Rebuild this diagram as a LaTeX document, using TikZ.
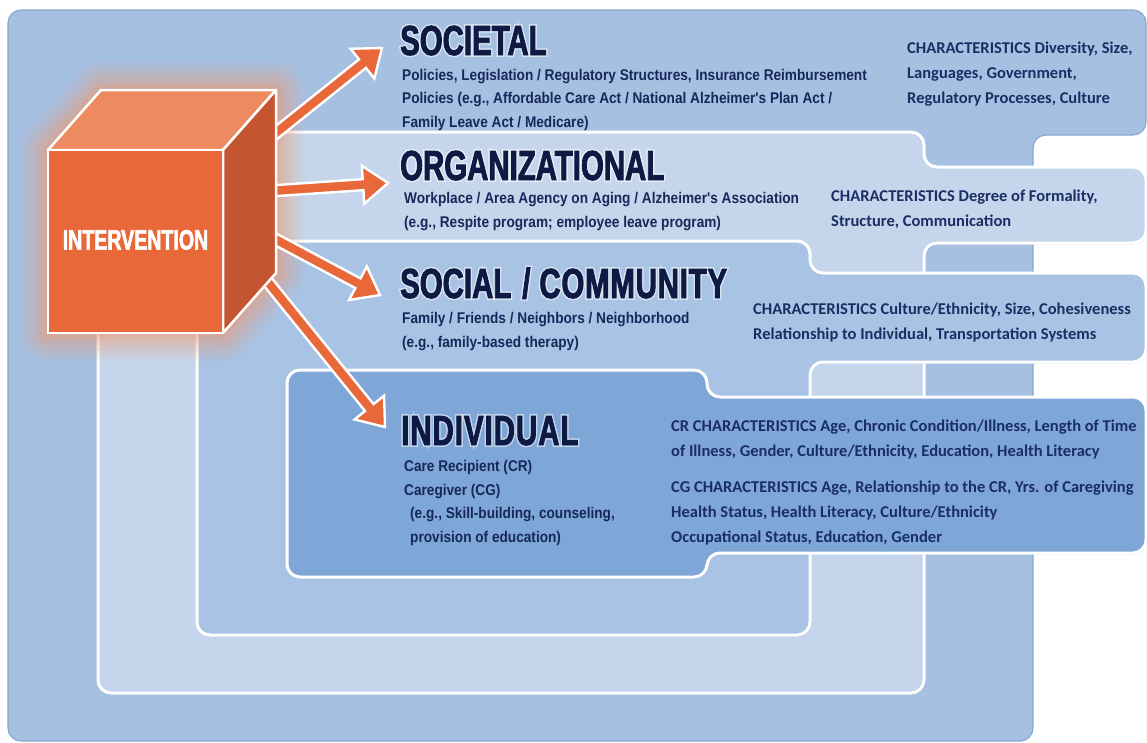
\documentclass[tikz,border=0pt]{standalone}
\usepackage{fontspec}
\usetikzlibrary{calc,shadows}

\newfontfamily\headfont{Liberation Sans Bold}[FakeStretch=0.70,FakeBold=2]
\newfontfamily\halofont{Liberation Sans Bold}[FakeStretch=0.70,FakeBold=9]
\newfontfamily\bodyfont{Liberation Sans Bold}[FakeStretch=0.88]
\newfontfamily\charfont{Carlito Bold}

\definecolor{outerblue}{HTML}{A6C0E2}
\definecolor{orgblue}{HTML}{C5D6EC}
\definecolor{socblue}{HTML}{A9C3E4}
\definecolor{indblue}{HTML}{7EA6D6}
\definecolor{outeredge}{HTML}{8BA7CE}
\definecolor{cubefront}{HTML}{E8683A}
\definecolor{cubetop}{HTML}{EE8A5F}
\definecolor{cuberight}{HTML}{C55530}
\definecolor{glowc}{HTML}{F29A70}
\definecolor{headtext}{HTML}{0E1A44}
\definecolor{bodytext}{HTML}{16285A}
\definecolor{chartext}{HTML}{1B2E64}

% fat outlined arrow from #1 to #2
\newcommand\fatarrow[2]{%
  \coordinate (fa-n) at ($(#2)!25pt!(#1)$);
  \filldraw[arrowbody]
    ($(#1)!5.5pt!90:(#2)$) -- ($(fa-n)!5.5pt!-90:(#1)$) --
    ($(fa-n)!19pt!-90:(#1)$) -- (#2) --
    ($(fa-n)!19pt!90:(#1)$) -- ($(fa-n)!5.5pt!90:(#1)$) --
    ($(#1)!5.5pt!-90:(#2)$) -- cycle;
}
\newcommand\comtext{SOCIAL\hspace{11pt}/\hspace{9pt}C\kern0.8ptO\kern0.8ptM\kern0.8ptM\kern0.8ptU\kern0.8ptN\kern0.8ptI\kern0.8ptT\kern0.8ptY}
\newcommand\indtext{I\kern1ptN\kern1ptD\kern1ptI\kern1ptV\kern1ptI\kern1ptD\kern1ptU\kern1ptA\kern1ptL}

\begin{document}
\begin{tikzpicture}[x=1pt,y=-1pt,
  level/.style={draw=white, line width=3pt, rounded corners=13pt,
    drop shadow={shadow xshift=1pt, shadow yshift=-1.5pt, opacity=0.25, fill=outeredge!70!black}},
  face/.style={draw=white, line width=2.5pt, line join=round},
  arrowbody/.style={fill=cubefront, draw=white, line width=2.4pt, line join=miter},
  heading/.style={anchor=base west, inner sep=0pt, text=headtext,
    font=\headfont\fontsize{42}{42}\selectfont},
  halo/.style={anchor=base west, inner sep=0pt, text=white, opacity=0.55,
    font=\halofont\fontsize{42}{42}\selectfont},
  % multi-line texts are placed by the baseline of their last line
  body/.style={anchor=base west, inner sep=0pt, align=left, text=bodytext,
    font=\bodyfont\fontsize{15.5}{23.5}\selectfont},
  chars/.style={anchor=base west, inner sep=0pt, align=left, text=chartext,
    font=\charfont\fontsize{16.5}{25}\selectfont},
]
\useasboundingbox (0,0) rectangle (1147,742);
\clip (0,0) rectangle (1147,742);
\fill[white] (0,0) rectangle (1147,742);

% nested levels, outermost first
\draw[draw=outeredge, line width=1.2pt, fill=outerblue, rounded corners=13pt]
  (8,10) -- (1146,10) -- (1146,135) -- (1033,135) -- (1033,741) -- (8,741) -- cycle;
\draw[level, fill=orgblue]
  (98,132) -- (924,132) -- (924,167) -- (1146,167) -- (1146,243) -- (924,243) -- (924,693) -- (98,693) -- cycle;
\draw[level, fill=socblue]
  (197,241) -- (810,241) -- (810,273) -- (1146,273) -- (1146,362) -- (810,362) -- (810,635) -- (197,635) -- cycle;
\draw[level, fill=indblue]
  (287,370) -- (707,370) -- (707,397) -- (1146,397) -- (1146,553) -- (707,553) -- (707,577) -- (287,577) -- cycle;

% cube corners
\coordinate (ftl) at (48,150);
\coordinate (ftr) at (223,150);
\coordinate (fbr) at (223,333);
\coordinate (fbl) at (48,333);
\coordinate (btl) at (101,90);
\coordinate (btr) at (276,90);
\coordinate (bbr) at (276,273);

% soft orange glow around the cube
\foreach \w/\o in {56/0.08, 46/0.10, 36/0.12, 26/0.15, 16/0.18, 8/0.22}
  \filldraw[glowc, line width=\w pt, opacity=\o, line join=round]
    (ftl) -- (btl) -- (btr) -- (bbr) -- (fbr) -- (fbl) -- cycle;

% arrow tails (behind the cube) and tips
\coordinate (a1) at (232,168);
\coordinate (t1) at (382,48);
\coordinate (a2) at (240,193);
\coordinate (t2) at (388,183);
\coordinate (a3) at (243,222);
\coordinate (t3) at (380,295);
\coordinate (a4) at (238,245);
\coordinate (t4) at (385,427);
\fatarrow{a1}{t1}
\fatarrow{a2}{t2}
\fatarrow{a3}{t3}
\fatarrow{a4}{t4}

% the cube
\draw[face, fill=cubetop] (ftl) -- (btl) -- (btr) -- (ftr) -- cycle;
\draw[face, fill=cuberight] (ftr) -- (btr) -- (bbr) -- (fbr) -- cycle;
\node (cube) [draw=white, line width=2.5pt, fill=cubefront, minimum width=175pt,
  minimum height=183pt, inner sep=0pt, text=white,
  font=\headfont\fontsize{28}{28}\selectfont] at (135.5,241.5)
  {\raisebox{3.5pt}{INTERVENTION}};

% level headings
\node (socH0) [halo] at (400,55) {SOCIETAL};
\node (socH) [heading] at (400,55) {SOCIETAL};
\node (orgH0) [halo] at (400,180) {ORGANIZATIONAL};
\node (orgH) [heading] at (400,180) {ORGANIZATIONAL};
\node (comH0) [halo] at (400,298) {\comtext};
\node (comH) [heading] at (400,298) {\comtext};
\node (indH0) [halo] at (401,445) {\indtext};
\node (indH) [heading] at (401,445) {\indtext};

% level descriptions
\node (socB) [body] at (402,127) {Policies, Legislation / Regulatory Structures, Insurance Reimbursement\\
  Policies (e.g., Affordable Care Act / National Alzheimer's Plan Act /\\
  Family Leave Act / Medicare)};
\node (orgB) [body] at (404,227) {Workplace / Area Agency on Aging / Alzheimer's Association\\
  (e.g., Respite program; employee leave program)};
\node (comB) [body] at (402,347) {Family / Friends / Neighbors / Neighborhood\\
  (e.g., family-based therapy)};
\node (indB) [body] at (404,542) {Care Recipient (CR)\\
  Caregiver (CG)\\
  \hspace*{6pt}(e.g., Skill-building, counseling,\\
  \hspace*{6pt}provision of education)};

% characteristics
\node (socC) [chars] at (907,103) {CHARACTERISTICS Diversity, Size,\\
  Languages, Government,\\
  Regulatory Processes, Culture};
\node (orgC) [chars] at (831,226) {CHARACTERISTICS Degree of Formality,\\
  Structure, Communication};
\node (comC) [chars] at (753,339) {CHARACTERISTICS Culture/Ethnicity, Size, Cohesiveness\\
  Relationship to Individual, Transportation Systems};
\node (indC1) [chars] at (671,456) {CR CHARACTERISTICS Age, Chronic Condition/Illness, Length of Time\\
  of Illness, Gender, Culture/Ethnicity, Education, Health Literacy};
\node (indC2) [chars] at (671,542) {CG CHARACTERISTICS Age, Relationship to the CR, Yrs. of Caregiving\\
  Health Status, Health Literacy, Culture/Ethnicity\\
  Occupational Status, Education, Gender};
\end{tikzpicture}
\end{document}
